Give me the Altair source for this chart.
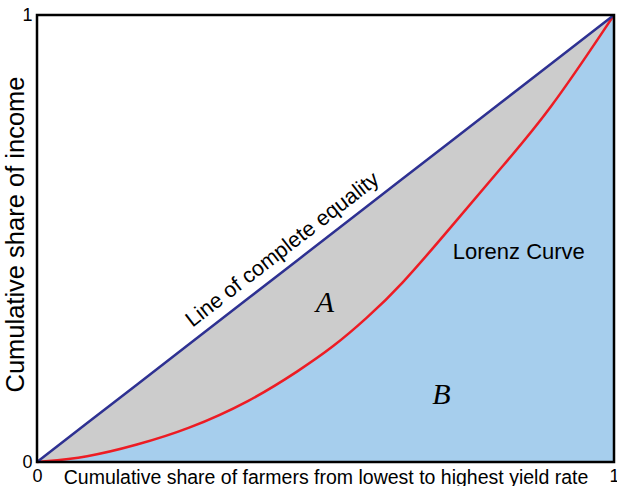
import altair as alt
import pandas as pd

# Lorenz curve
pop_share = [0, 0.087, 0.173, 0.26, 0.369, 0.456, 0.514, 0.571, 0.629, 0.716, 0.802, 0.886, 1]
income_share = [0, 0.010, 0.038, 0.072, 0.135, 0.206, 0.258, 0.321, 0.392, 0.523, 0.655, 0.780, 1]

axis_values = [0, 1]
x_title = "Cumulative share of farmers from lowest to highest yield rate"
y_title = "Cumulative share of income"
equality_label = "Line of complete equality"
lorenz_label = "Lorenz Curve"
area_labels = ["A", "B"]

df = pd.DataFrame({"x": pop_share, "lorenz": income_share})
df["equal"] = df["x"]

FONT = "Liberation Sans"
INTERP = "basis"

xscale = alt.Scale(domain=[0, 1], nice=False, zero=False)
yscale = alt.Scale(domain=[0, 1], nice=False, zero=False)

x_axis = alt.Axis(
    values=axis_values, title=x_title, grid=False, ticks=False, domain=False,
    labelFontSize=18, labelColor="black", labelFont=FONT, labelPadding=5,
    labelFlush=False, labelOverlap=False, format="d",
    titleFont=FONT, titleFontSize=19.5, titleFontWeight="normal", titleColor="black",
    titleBaseline="alphabetic", titleY=21,
)
y_axis = alt.Axis(
    values=axis_values, title=y_title, grid=False, ticks=False, domain=False,
    labelFontSize=18, labelColor="black", labelFont=FONT, labelPadding=5,
    labelFlush=False, labelOverlap=False, format="d", labelBaseline="middle",
    titleFont=FONT, titleFontSize=25.5, titleFontWeight="normal", titleColor="black",
    titleBaseline="alphabetic", titleX=-14, titleY=219, titleAlign="center", titleAngle=270,
)

base = alt.Chart(df)

blue_area = base.mark_area(color="#a6ceed", interpolate=INTERP).encode(
    x=alt.X("x:Q", scale=xscale, axis=x_axis),
    y=alt.Y("lorenz:Q", scale=yscale, axis=y_axis),
    y2=alt.datum(0),
)
gray_area = base.mark_area(color="#cccccc", interpolate=INTERP).encode(
    x=alt.X("x:Q"),
    y=alt.Y("equal:Q"),
    y2="lorenz:Q",
)
red_line = base.mark_line(color="#ed1c24", strokeWidth=2.5, interpolate=INTERP).encode(
    x="x:Q", y="lorenz:Q"
)
blue_line = base.mark_line(color="#2e3192", strokeWidth=2.5).encode(
    x="x:Q", y="equal:Q"
)

eq_text = alt.Chart().mark_text(
    text=equality_label, font=FONT, fontSize=21.5, angle=322.2, color="black"
).encode(x=alt.datum(0.426), y=alt.datum(0.474))

lorenz_text = alt.Chart().mark_text(
    text=lorenz_label, font=FONT, fontSize=22, color="black"
).encode(x=alt.datum(0.835), y=alt.datum(0.470))

a_text = alt.Chart().mark_text(
    text=area_labels[0], font="Liberation Serif", fontStyle="italic", fontSize=30, color="black"
).encode(x=alt.datum(0.499), y=alt.datum(0.356))

b_text = alt.Chart().mark_text(
    text=area_labels[1], font="Liberation Serif", fontStyle="italic", fontSize=30, color="black"
).encode(x=alt.datum(0.701), y=alt.datum(0.150))

frame = alt.Chart().mark_rect(fill="transparent", stroke="black", strokeWidth=2.5).encode(
    x=alt.datum(0), x2=alt.datum(1), y=alt.datum(0), y2=alt.datum(1)
)

chart = alt.layer(
    blue_area, gray_area, red_line, blue_line, eq_text, lorenz_text, a_text, b_text, frame
).properties(
    width=577, height=447,
    autosize=alt.AutoSizeParams(type="none"),
    padding={"left": 37, "top": 15, "right": 3, "bottom": 24},
    background="white",
).configure_view(strokeWidth=0)

chart.save("out.html", embed_options={"renderer": "svg", "actions": False})
